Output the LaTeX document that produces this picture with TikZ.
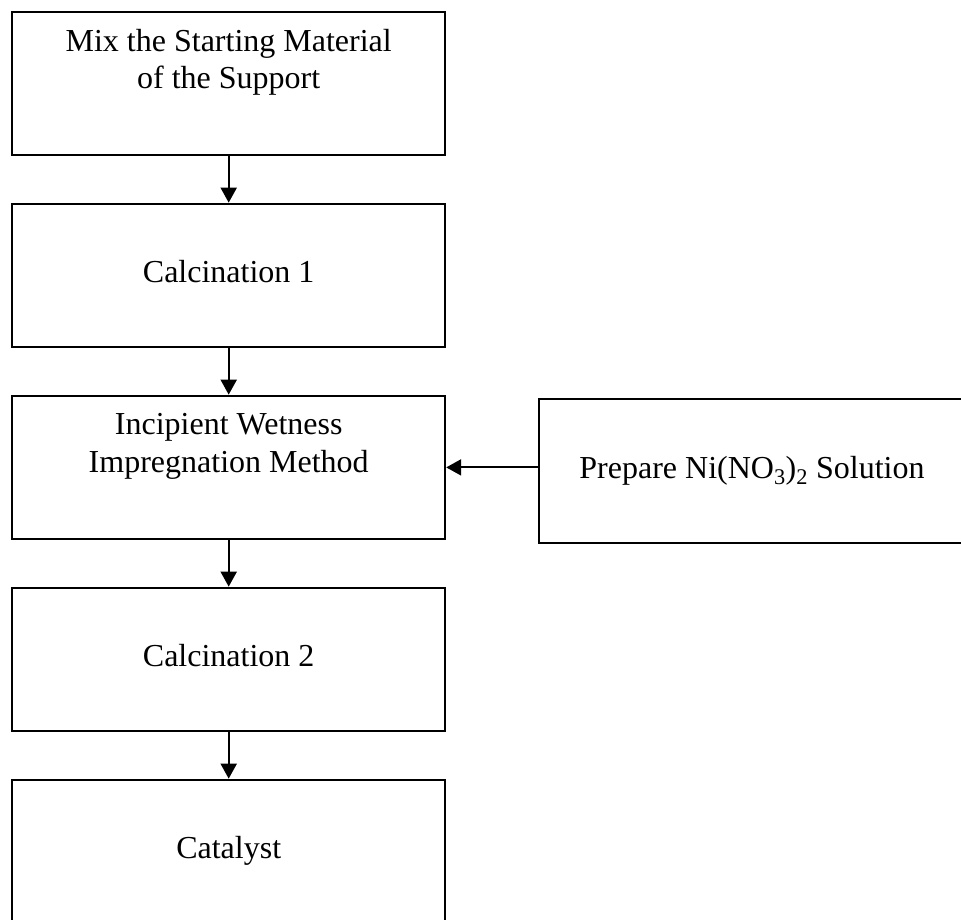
\documentclass[tikz,border=0pt]{standalone}
\usepackage{fontspec}
\setmainfont{Liberation Serif}
\usetikzlibrary{positioning, arrows.meta, calc}

\tikzset{
    stepbox/.style={draw=black, line width=2pt, rectangle, inner sep=0pt,
        minimum width=433pt, minimum height=143.5pt, align=center,
        font=\fontsize{32pt}{37.4pt}\selectfont},
    flow/.style={black, line width=2pt, -{Triangle[width=16pt,length=15pt]}}
}

\begin{document}
\begin{tikzpicture}[x=1pt, y=-1pt]
    \def\colx{228.7}
    \def\topy{83.4}
    \def\pitch{192}

    % frame of the figure
    \useasboundingbox (0,0) rectangle (961,920);
    \clip (0,0) rectangle (961,920);

    % process steps, top to bottom
    \foreach \name/\i/\txt in {
        mix/0/{Mix the Starting Material\\of the Support\\\strut},
        calcA/1/{\strut Calcination 1},
        impreg/2/{Incipient Wetness\\Impregnation Method\\\strut},
        calcB/3/{\strut Calcination 2},
        cat/4/{\strut Catalyst}}
    {
        \node[stepbox] (\name) at (\colx, \topy + \i*\pitch) {\txt};
    }

    % side input
    \node[stepbox, minimum width=426pt] (prep) at (752, 471)
        {\strut Prepare Ni(NO\textsubscript{3})\textsubscript{2} Solution};

    % arrows
    \foreach \from/\to in {mix/calcA, calcA/impreg, impreg/calcB, calcB/cat}
    {
        \draw[flow] (\from) -- (\to);
    }
    \draw[flow] (prep.west |- impreg.east) -- (impreg.east);
\end{tikzpicture}
\end{document}
